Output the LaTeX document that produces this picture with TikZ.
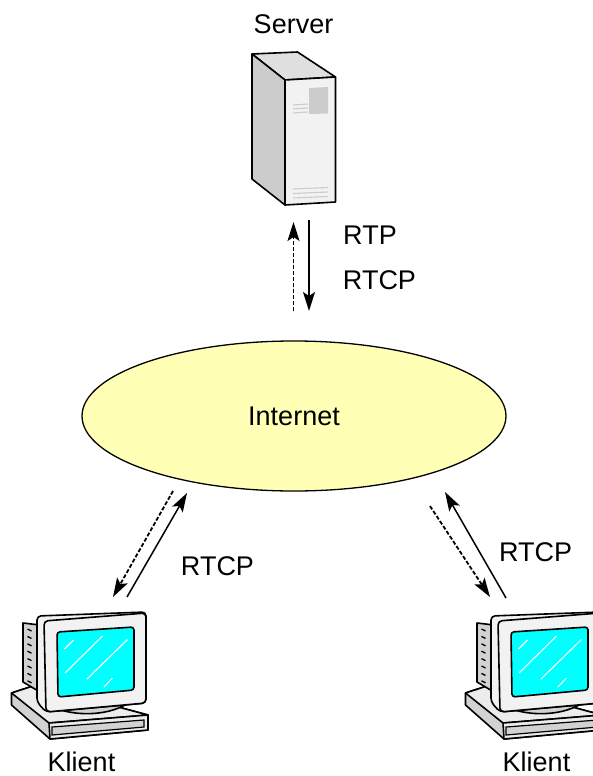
\documentclass[tikz,border=0pt]{standalone}
\usepackage{fontspec}
\setmainfont{Liberation Sans}
\usetikzlibrary{arrows.meta,shapes.geometric}
\definecolor{wolke}{HTML}{FFFFB5}
\definecolor{schirm}{RGB}{0,255,255}
\tikzset{
    etikett/.style={font=\fontsize{27}{30}\selectfont, inner sep=0pt},
    hin/.style={line width=1.5pt, -{Stealth[length=19pt,width=12pt,inset=4pt]}},
    rueck/.style={hin, line width=1.8pt, dash pattern=on 4pt off 2pt},
    kante/.style={draw=black, line width=1.6pt, line join=round},
    klient/.pic={
        \draw[kante, fill=gray!35] (11.5,693) -- (36,685) -- (148,715) -- (148,730) -- (50,739) -- (11.5,705) -- cycle;
        \draw[kante, fill=gray!15] (11.5,693) -- (36,685) -- (148,715) -- (49,723) -- cycle;
        \draw[kante, fill=gray!15] (49,723) -- (148,715) -- (148,730) -- (50,739) -- cycle;
        \draw[line width=1.2pt, fill=gray!35] (52,727) -- (144,720) -- (144,727) -- (52,735) -- cycle;
        \draw[kante, fill=gray!35] (23,623) -- (40,625) -- (40,692) -- (23,682) -- cycle;
        \foreach \i in {0,...,7}
            \draw[line width=1.3pt] (27.5,629+\i*7.4) -- (31.5,631+\i*7.4);
        \draw[kante, fill=gray!35] (55,708) .. controls (75,716) and (105,716) .. (125,705) -- cycle;
        \draw[kante, fill=gray!10, rounded corners=4pt] (37,616) -- (146,612) -- (146,703) -- (46,712) -- (37,702) -- cycle;
        \draw[kante, fill=gray!10, rounded corners=4pt] (44,621) -- (146,613) -- (146,703) -- (46,712) -- cycle;
        \draw[kante, fill=schirm, rounded corners=3pt] (57,632) -- (134,627) -- (134,690) -- (58,697) -- cycle;
        \draw[white, line width=1.1pt] (64.5,649) -- (73.5,640);
        \draw[white, line width=1.1pt] (65,673) -- (102.5,636);
        \draw[white, line width=1.1pt] (87,679) -- (127.5,639.5);
        \draw[white, line width=1.1pt] (104,687) -- (112.5,678);
    }
}
\begin{document}
\begin{tikzpicture}[x=1pt,y=-1pt]
    \useasboundingbox (0,0) rectangle (593,776);

    % server
    \draw[kante, fill=gray!25] (252,54) -- (297.5,52) -- (335.5,77) -- (285,80) -- cycle;
    \draw[kante, fill=gray!40] (252,54) -- (285,80) -- (285,205) -- (252,179) -- cycle;
    \draw[kante, fill=gray!10] (285,80) -- (335.5,77) -- (335.5,202) -- (285,205) -- cycle;
    \fill[gray!40] (309,88) -- (328,87) -- (328,113.5) -- (309,114) -- cycle;
    \foreach \y in {105,109,113}
        \draw[gray!40, line width=1.1pt] (293,\y) -- (308,\y-1);
    \foreach \y in {189,193.5,198}
        \draw[gray!40, line width=1.1pt] (293,\y) -- (328,\y-1.5);
    \node[etikett] (server) at (293.5,24) {Server};

    % internet
    \node[ellipse, draw, fill=wolke, line width=1.3pt, minimum width=424pt, minimum height=150pt, inner sep=0pt] (internet) at (294,416) {};
    \node[etikett] (internettext) at (294,416) {Internet};

    % klienten
    \pic at (0,0) {klient};
    \pic at (454,0) {klient};
    \node[etikett] (klienta) at (81.5,762) {Klient};
    \node[etikett] (klientb) at (536.5,762) {Klient};

    \coordinate (s1) at (293.5,311);
    \coordinate (s2) at (293.5,222);
    \coordinate (s3) at (309,220);
    \coordinate (s4) at (309,311);
    \coordinate (a1) at (173,491);
    \coordinate (a2) at (113,597);
    \coordinate (a3) at (127,597);
    \coordinate (a4) at (187,493);
    \coordinate (b1) at (430,506);
    \coordinate (b2) at (490,597);
    \coordinate (b3) at (506,598);
    \coordinate (b4) at (445,492);

    \draw[rueck] (s1) -- (s2);
    \draw[hin] (s3) -- (s4);
    \draw[rueck] (a1) -- (a2);
    \draw[hin] (a3) -- (a4);
    \draw[rueck] (b1) -- (b2);
    \draw[hin] (b3) -- (b4);

    \node[etikett] (rtp) at (370,235) {RTP};
    \node[etikett] (rtcpa) at (379.5,280) {RTCP};
    \node[etikett] (rtcpb) at (217.5,566) {RTCP};
    \node[etikett] (rtcpc) at (535.5,552) {RTCP};
\end{tikzpicture}
\end{document}
